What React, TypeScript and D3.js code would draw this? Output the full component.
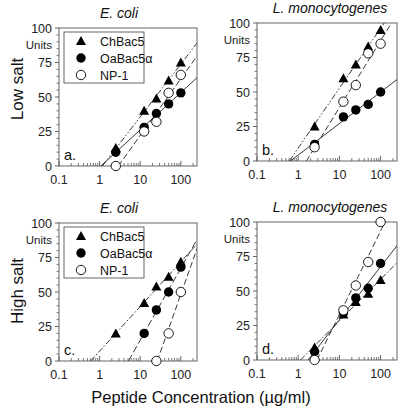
import React from "react";
import * as d3 from "d3";

// ---- data ----
const concentrations = [2.5, 12.5, 25, 50, 100];
const seriesNames = ["ChBac5", "OaBac5\u03b1", "NP-1"];
const panelLetters = ["a.", "b.", "c.", "d."];
const panelTitles = ["E. coli", "L. monocytogenes", "E. coli", "L. monocytogenes"];
const rowLabels = ["Low salt", "High salt"];
const xTickValues = [0.1, 1, 10, 100];
const xTickLabels = ["0.1", "1", "10", "100"];
const yTickValues = [0, 25, 50, 75, 100];

// values per panel (null = no point)
const chBac5 = [
  [13, 40, 49, 62, 75],
  [25, 60, 70, 83, 95],
  [20, 42, 54, 61, 72],
  [9, 33, 42, 48, 58],
];
const oaBac5a = [
  [10, 28, 38, 45, 53],
  [12, 32, 37, 41, 50],
  [null, 20, 37, 50, 68],
  [6, 34, 45, 52, 70],
];
const np1 = [
  [0, 25, 32, 53, 66],
  [10, 43, 55, 78, 85],
  [null, null, 0, 20, 50],
  [0, 36, 54, 71, 100],
];

type Panel = { left: number; right: number; top: number; bottom: number };
const panels: Panel[] = [
  { left: 59, right: 197, top: 28, bottom: 166 },
  { left: 257, right: 397, top: 23, bottom: 161 },
  { left: 59, right: 197, top: 223, bottom: 361 },
  { left: 257, right: 397, top: 222, bottom: 360 },
];
// line dash styles per panel per series
const dashStyles = [
  ["6,2,1.5,2,1.5,2", "none", "6,3"],
  ["6,2,1.5,2,1.5,2", "none", "6,3"],
  ["6,2,1.5,2", "7,3", "6,3"],
  ["6,2,1.5,2", "none", "6,3"],
];

const FONT = "'Liberation Sans', Arial, Helvetica, sans-serif";

function fit(xs: number[], ys: (number | null)[]) {
  const pts = xs.map((x, i) => [Math.log10(x), ys[i]] as [number, number | null]).filter((p) => p[1] !== null) as [number, number][];
  const mx = d3.mean(pts, (p) => p[0])!;
  const my = d3.mean(pts, (p) => p[1])!;
  const sxx = d3.sum(pts, (p) => (p[0] - mx) ** 2);
  const sxy = d3.sum(pts, (p) => (p[0] - mx) * (p[1] - my));
  const b = sxy / sxx;
  const a = my - b * mx;
  return { a, b };
}

function Triangle({ x, y }: { x: number; y: number }) {
  const s = 5;
  return <path d={`M${x},${y - s}L${x + s},${y + s * 0.8}L${x - s},${y + s * 0.8}Z`} fill="#000" />;
}
function Marker({ k, x, y }: { k: number; x: number; y: number }) {
  if (k === 0) return <Triangle x={x} y={y} />;
  if (k === 1) return <circle cx={x} cy={y} r={4.7} fill="#000" />;
  return <circle cx={x} cy={y} r={4.7} fill="#fff" stroke="#000" strokeWidth={0.9} />;
}

function PanelView({ idx }: { idx: number }) {
  const p = panels[idx];
  const x = d3.scaleLog().domain([0.1, 250]).range([p.left, p.right]);
  const y = d3.scaleLinear().domain([0, 100]).range([p.bottom, p.top]);
  const series = [chBac5[idx], oaBac5a[idx], np1[idx]];
  const minor: number[] = [];
  for (let dec = 0.1; dec < 250; dec *= 10) {
    for (let m = 2; m <= 9; m++) {
      const v = dec * m;
      if (v < 250) minor.push(v);
    }
  }
  const yMinor = d3.range(0, 101, 5).filter((v) => v % 25 !== 0);
  const clipId = `clip${idx}`;
  const line = d3.line<[number, number]>().x((d) => x(d[0])).y((d) => y(d[1]));
  const showLegend = idx === 0 || idx === 2;
  return (
    <g>
      <defs>
        <clipPath id={clipId}>
          <rect x={p.left} y={p.top} width={p.right - p.left} height={p.bottom - p.top} />
        </clipPath>
      </defs>
      <rect x={p.left} y={p.top} width={p.right - p.left} height={p.bottom - p.top} fill="none" stroke="#555" strokeWidth={0.9} />
      {/* x ticks */}
      {xTickValues.map((v, i) => (
        <g key={"xt" + i}>
          <line x1={x(v)} x2={x(v)} y1={p.bottom} y2={p.bottom - 5} stroke="#555" strokeWidth={0.9} />
          <text x={x(v)} y={p.bottom + 18} textAnchor="middle" fontFamily={FONT} fontSize={12.5} fill="#222">
            {xTickLabels[i]}
          </text>
        </g>
      ))}
      {minor.map((v, i) => (
        <line key={"xm" + i} x1={x(v)} x2={x(v)} y1={p.bottom} y2={p.bottom - 3} stroke="#555" strokeWidth={0.8} />
      ))}
      {/* y ticks */}
      {yTickValues.map((v) => (
        <g key={"yt" + v}>
          <line x1={p.left - 4} x2={p.left} y1={y(v)} y2={y(v)} stroke="#555" strokeWidth={0.9} />
          <text x={p.left - 7} y={y(v) + 4.5} textAnchor="end" fontFamily={FONT} fontSize={12.5} fill="#222">
            {v}
          </text>
        </g>
      ))}
      {yMinor.map((v) => (
        <line key={"ym" + v} x1={p.left - 2.5} x2={p.left} y1={y(v)} y2={y(v)} stroke="#555" strokeWidth={0.8} />
      ))}
      <text x={p.left - 7} y={y(87.5) + 4} textAnchor="end" fontFamily={FONT} fontSize={11.5} fill="#222">
        Units
      </text>
      {/* title */}
      <text x={idx % 2 === 0 ? 119 : 330} y={p.top - 10} textAnchor="middle" fontFamily={FONT} fontSize={14} fontStyle="italic" fill="#111">
        {panelTitles[idx]}
      </text>
      {/* fit lines */}
      <g clipPath={`url(#${clipId})`}>
        {series.map((ys, k) => {
          const { a, b } = fit(concentrations, ys);
          const x0 = Math.pow(10, -a / b);
          const x1 = 250;
          const pts: [number, number][] = [
            [x0, 0],
            [x1, a + b * Math.log10(x1)],
          ];
          return (
            <path key={"fl" + k} d={line(pts)!} fill="none" stroke="#222" strokeWidth={0.9} strokeDasharray={dashStyles[idx][k]} />
          );
        })}
      </g>
      {/* markers */}
      {series.map((ys, k) =>
        ys.map((v, i) => (v === null ? null : <Marker key={`m${k}-${i}`} k={k} x={x(concentrations[i])} y={y(v)} />))
      )}
      <text x={p.left + 5} y={p.bottom - 6} fontFamily={FONT} fontSize={14.5} fill="#111">
        {panelLetters[idx]}
      </text>
      {showLegend && (
        <g>
          <rect x={p.left + 5} y={p.top + 4} width={80} height={51} fill="#fff" stroke="#555" strokeWidth={0.9} />
          {seriesNames.map((n, k) => (
            <g key={"lg" + k}>
              <Marker k={k} x={p.left + 22} y={p.top + 13 + k * 17} />
              <text x={p.left + 41} y={p.top + 17.5 + k * 17} fontFamily={FONT} fontSize={12.5} fill="#111">
                {n}
              </text>
            </g>
          ))}
        </g>
      )}
    </g>
  );
}

export default function App() {
  return (
    <svg width={402} height={416} style={{ position: "absolute", left: 0, top: 0, background: "#fff" }}>
      <rect width={402} height={416} fill="#fff" />
      {panels.map((_, i) => (
        <PanelView key={i} idx={i} />
      ))}
      <text transform="translate(23,89) rotate(-90)" textAnchor="middle" fontFamily={FONT} fontSize={17} fill="#111">
        {rowLabels[0]}
      </text>
      <text transform="translate(23,291) rotate(-90)" textAnchor="middle" fontFamily={FONT} fontSize={17} fill="#111">
        {rowLabels[1]}
      </text>
      <text x={201} y={403} textAnchor="middle" fontFamily={FONT} fontSize={16.5} fill="#111">
        Peptide Concentration (µg/ml)
      </text>
    </svg>
  );
}
